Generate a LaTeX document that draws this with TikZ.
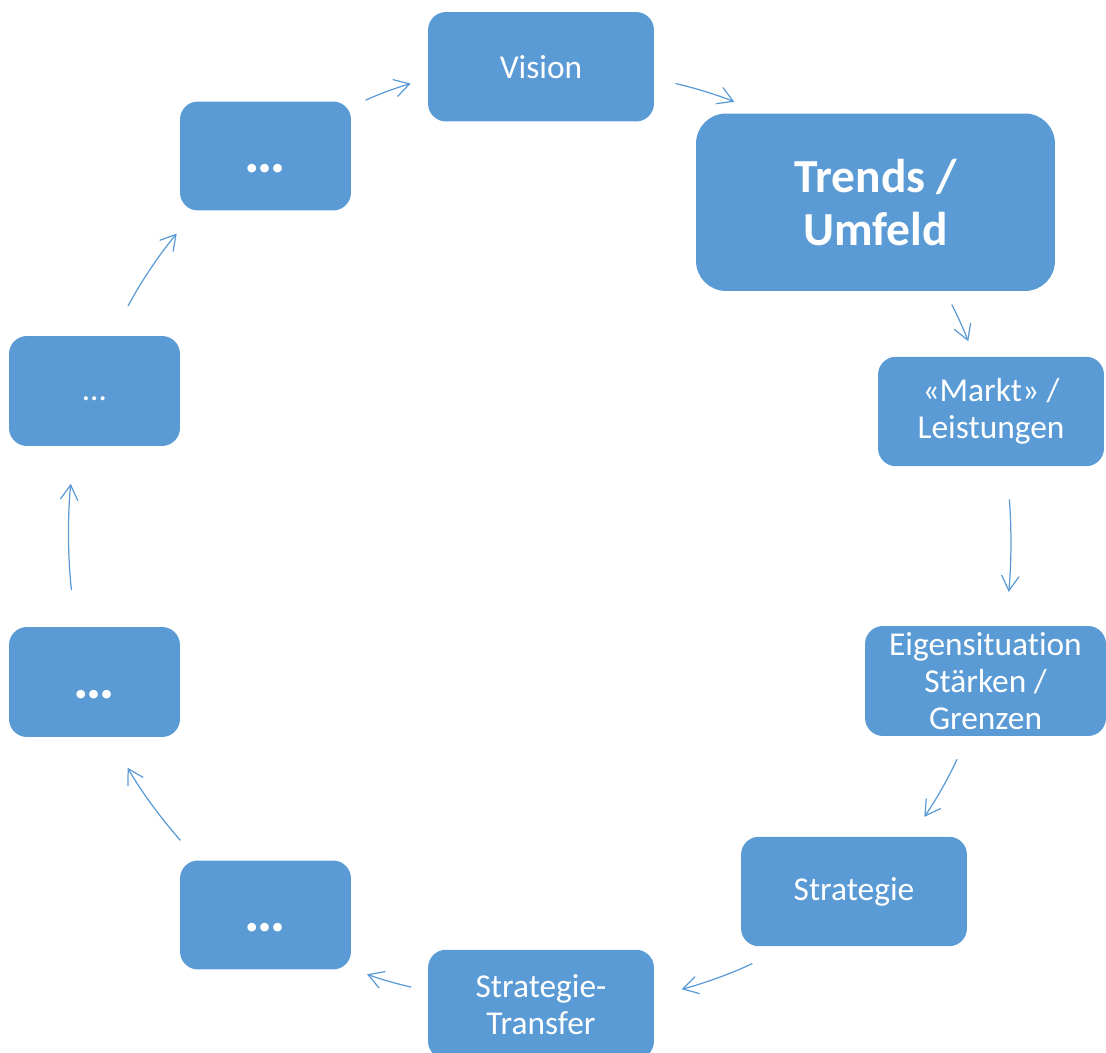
\documentclass[tikz,border=0pt]{standalone}
\usepackage{fontspec}
\setmainfont{Carlito}[Ligatures=NoCommon]
\usetikzlibrary{arrows.meta}
\definecolor{boxblue}{RGB}{91,155,213}
\tikzset{
  box/.style={fill=boxblue, text=white, rounded corners=0.36cm, align=center,
    inner sep=0pt, outer sep=0pt, minimum width=4.52cm, minimum height=2.19cm,
    font=\fontsize{19}{21}\selectfont},
  dotbox/.style={box, minimum width=3.42cm, minimum height=2.18cm,
    text height=22pt, text depth=3pt, font=\fontsize{33}{36}\selectfont\bfseries},
  arr/.style={draw=boxblue, line width=0.7pt, -{Straight Barb[length=8.5pt,width=10pt]}}
}
\begin{document}
\begin{tikzpicture}[x=0.02cm, y=-0.02cm]
\useasboundingbox (0,0) rectangle (1106,1053);
% kreis der schritte
\node[box] (vision) at (541,66.75) {Vision};
\node[box, minimum width=7.18cm, minimum height=3.55cm, rounded corners=0.6cm,
  font=\fontsize{27}{30}\selectfont\bfseries] (trends) at (875.5,202.25) {Trends /\\Umfeld};
\node[box] (markt) at (991,411.5) {«Markt» /\\Leistungen};
\node[box, minimum width=4.82cm, minimum height=2.2cm] (eigen) at (985.5,681) {Eigensituation\\Stärken /\\Grenzen};
\node[box] (strategie) at (854,891.5) {Strategie};
\node[box] (transfer) at (541,1004.5) {Strategie-\\Transfer};
\node[dotbox] (dotsA) at (265.5,915) {…};
\node[dotbox, minimum height=2.2cm] (dotsB) at (94.5,682) {…};
\node[dotbox, minimum height=2.2cm, text height=14pt, text depth=3.2pt,
  font=\fontsize{19}{21}\selectfont] (dotsC) at (94.5,391) {…};
\node[dotbox] (dotsD) at (265.5,156) {…};

% pfeile im uhrzeigersinn
\foreach \src/\sa/\tgt/\ta/\ls/\le/\bnd in {
  dotsD/30.4/vision/186.2/0.318/0.36/4,
  vision/354.3/trends/142.5/0.442/0.598/5,
  trends/308.4/markt/107.5/0.304/0.332/3,
  markt/286.5/eigen/70.2/0.666/0.686/5,
  eigen/252/strategie/44/0.512/0.482/5,
  strategie/219.8/transfer/4.9/0.762/0.574/6,
  transfer/173.2/dotsA/328.5/0.342/0.342/4,
  dotsA/141.7/dotsB/286.6/0.536/0.706/6,
  dotsB/109.5/dotsC/250.5/0.74/0.76/6,
  dotsC/72.3/dotsD/218.4/0.676/0.598/6}
{
  \draw[arr, shorten <=\ls cm, shorten >=\le cm] (\src.\sa) to[bend left=\bnd] (\tgt.\ta);
}
\end{tikzpicture}
\end{document}
